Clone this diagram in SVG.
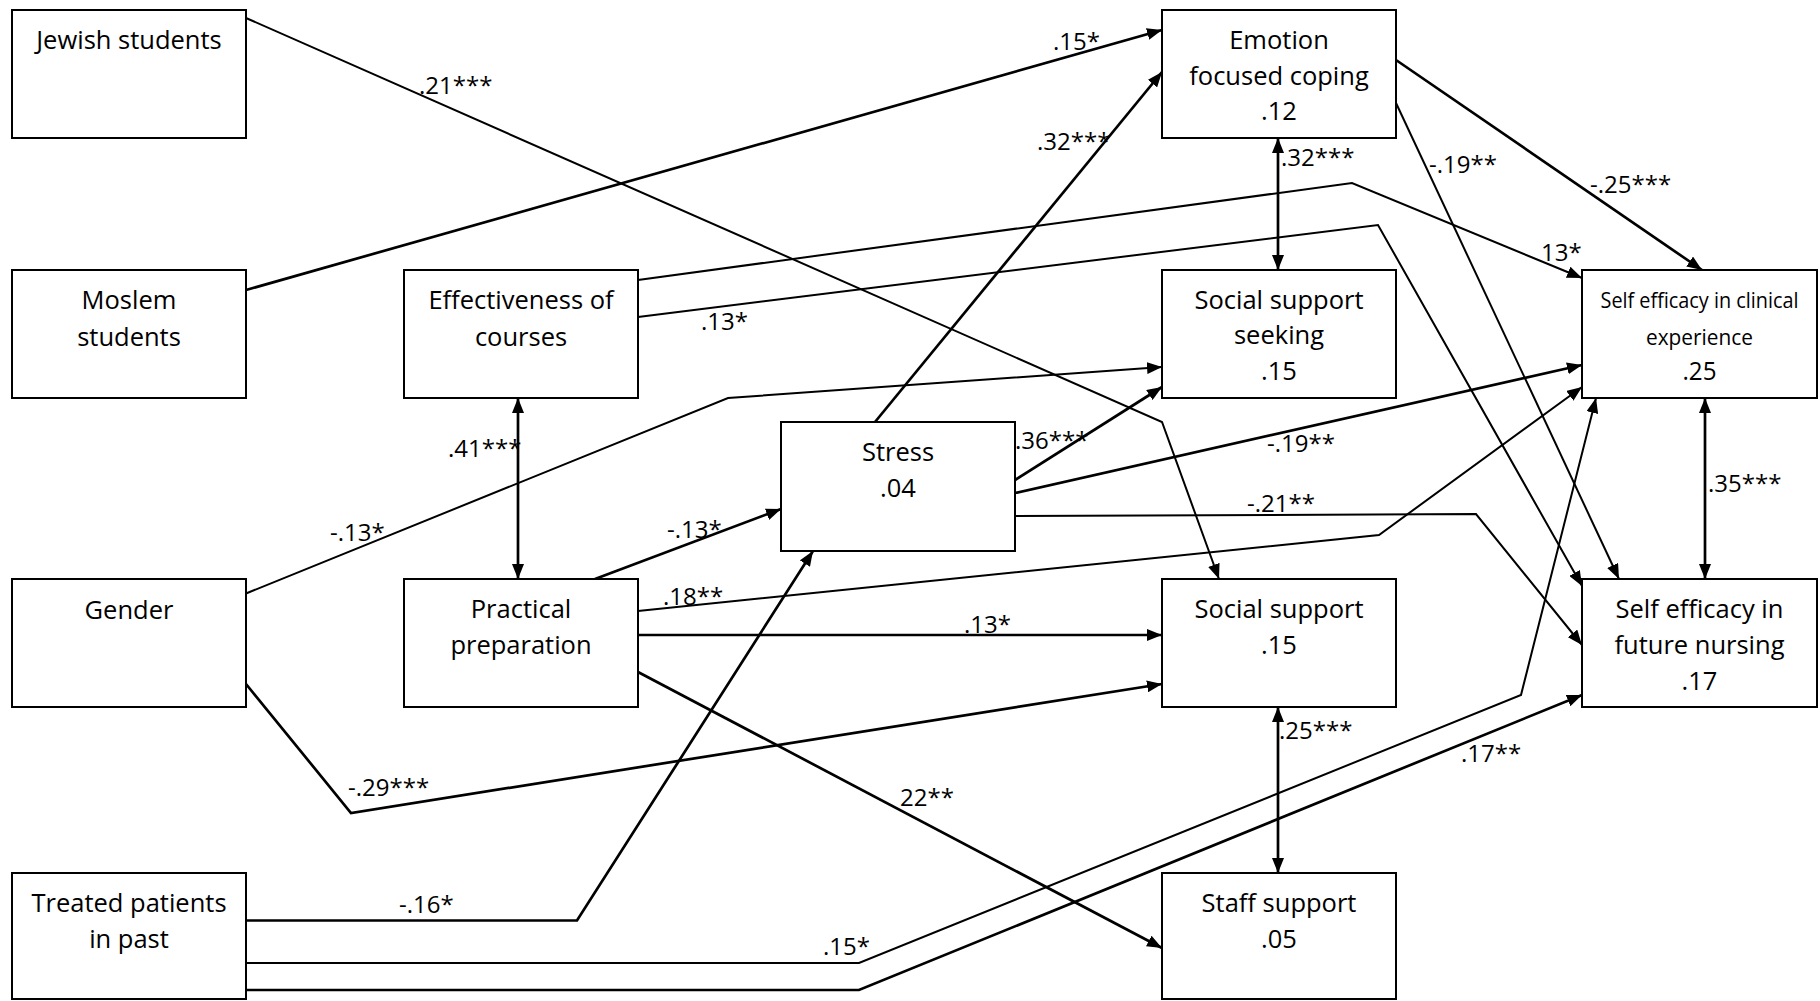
<svg xmlns="http://www.w3.org/2000/svg" width="1820" height="1001" viewBox="0 0 1820 1001">
<defs>
<marker id="ah" markerUnits="userSpaceOnUse" markerWidth="16" markerHeight="12" refX="15" refY="6" orient="auto-start-reverse">
<path d="M0,0 L15,6 L0,12 z" fill="#000"/>
</marker>
<style>
.box{fill:#fff;stroke:#000;stroke-width:2}
.nt{font-family:"Open Sans","Noto Sans","Liberation Sans",sans-serif;font-size:25.5px;fill:#000;text-anchor:middle}
.sm{font-size:22px}
.lb{font-family:"Open Sans","Noto Sans","Liberation Sans",sans-serif;font-size:24px;fill:#000}
.c{fill:none;stroke:#000;stroke-width:2;stroke-linejoin:miter}
.k{stroke-width:2.7}
.a{marker-end:url(#ah)}
.d{marker-start:url(#ah);marker-end:url(#ah)}
</style>
</defs>
<rect width="1820" height="1001" fill="#fff"/>
<g id="connectors">
<path class="c a" d="M246,18 L1162,422 L1219,579"/>
<path class="c k a" d="M246,290 L1162,30"/>
<path class="c k a" d="M875,422 L1162,72"/>
<path class="c k d" d="M1278,138 L1278,270"/>
<path class="c k a" d="M1396,60 L1702,270"/>
<path class="c a" d="M1396,103 L1619,579"/>
<path class="c a" d="M638,280 L1352,183 L1582,278"/>
<path class="c a" d="M638,317 L1378,225 L1582,586"/>
<path class="c a" d="M246,593.5 L728,398 L1162,367"/>
<path class="c k d" d="M518,398 L518,579"/>
<path class="c k a" d="M595,579 L781,509"/>
<path class="c k a" d="M1015,480 L1162,387"/>
<path class="c k a" d="M1015,493 L1582,365"/>
<path class="c a" d="M1015,516 L1476,514 L1582,645"/>
<path class="c a" d="M638,611 L1379,535 L1582,387"/>
<path class="c k a" d="M638,635 L1162,635"/>
<path class="c k a" d="M638,672 L1162,948"/>
<path class="c k a" d="M246,684 L351,813 L1162,684"/>
<path class="c k a" d="M246,920.5 L577,920.5 L813,551"/>
<path class="c a" d="M246,963 L859,963 L1521,695 L1596,398"/>
<path class="c k a" d="M246,990 L859,990 L1582,695"/>
<path class="c k d" d="M1278,707 L1278,873"/>
<path class="c k d" d="M1705,398 L1705,579"/>
<g id="labels">
<text class="lb" x="419" y="94">.21***</text>
<text class="lb" x="1053" y="50">.15*</text>
<text class="lb" x="1037" y="150">.32***</text>
<text class="lb" x="1281" y="166">.32***</text>
<text class="lb" x="1590" y="193">-.25***</text>
<text class="lb" x="1429" y="173">-.19**</text>
<text class="lb" x="1541" y="261">13*</text>
<text class="lb" x="701" y="330">.13*</text>
<text class="lb" x="330" y="541">-.13*</text>
<text class="lb" x="448" y="457">.41***</text>
<text class="lb" x="667" y="538">-.13*</text>
<text class="lb" x="1015" y="449">.36***</text>
<text class="lb" x="1267" y="452">-.19**</text>
<text class="lb" x="1247" y="512">-.21**</text>
<text class="lb" x="663" y="605">.18**</text>
<text class="lb" x="964" y="633">.13*</text>
<text class="lb" x="900" y="806">22**</text>
<text class="lb" x="348" y="796">-.29***</text>
<text class="lb" x="399" y="913">-.16*</text>
<text class="lb" x="823" y="955">.15*</text>
<text class="lb" x="1461" y="762">.17**</text>
<text class="lb" x="1279" y="739">.25***</text>
<text class="lb" x="1708" y="492">.35***</text>
</g>
</g>
<g id="jewish"><rect class="box" x="12" y="10" width="234" height="128"/><text class="nt" x="129" y="49">Jewish students</text></g>
<g id="moslem"><rect class="box" x="12" y="270" width="234" height="128"/><text class="nt" x="129" y="309">Moslem</text><text class="nt" x="129" y="346">students</text></g>
<g id="gender"><rect class="box" x="12" y="579" width="234" height="128"/><text class="nt" x="129" y="619">Gender</text></g>
<g id="treated"><rect class="box" x="12" y="873" width="234" height="126"/><text class="nt" x="129" y="912">Treated patients</text><text class="nt" x="129" y="948">in past</text></g>
<g id="effectiveness"><rect class="box" x="404" y="270" width="234" height="128"/><text class="nt" x="521" y="309">Effectiveness of</text><text class="nt" x="521" y="346">courses</text></g>
<g id="practical"><rect class="box" x="404" y="579" width="234" height="128"/><text class="nt" x="521" y="618">Practical</text><text class="nt" x="521" y="654">preparation</text></g>
<g id="stress"><rect class="box" x="781" y="422" width="234" height="129"/><text class="nt" x="898" y="461">Stress</text><text class="nt" x="898" y="497">.04</text></g>
<g id="emotion"><rect class="box" x="1162" y="10" width="234" height="128"/><text class="nt" x="1279" y="49">Emotion</text><text class="nt" x="1279" y="85">focused coping</text><text class="nt" x="1279" y="120">.12</text></g>
<g id="social-support-seeking"><rect class="box" x="1162" y="270" width="234" height="128"/><text class="nt" x="1279" y="309">Social support</text><text class="nt" x="1279" y="344">seeking</text><text class="nt" x="1279" y="380">.15</text></g>
<g id="social-support"><rect class="box" x="1162" y="579" width="234" height="128"/><text class="nt" x="1279" y="618">Social support</text><text class="nt" x="1279" y="654">.15</text></g>
<g id="staff-support"><rect class="box" x="1162" y="873" width="234" height="126"/><text class="nt" x="1279" y="912">Staff support</text><text class="nt" x="1279" y="948">.05</text></g>
<g id="se-clinical"><rect class="box" x="1582" y="270" width="235" height="128"/><text class="nt sm" x="1699.5" y="308" textLength="198" lengthAdjust="spacingAndGlyphs">Self efficacy in clinical</text><text class="nt sm" x="1699.5" y="345" textLength="107" lengthAdjust="spacingAndGlyphs">experience</text><text class="nt" x="1699.5" y="380" textLength="34" lengthAdjust="spacingAndGlyphs">.25</text></g>
<g id="se-future"><rect class="box" x="1582" y="579" width="235" height="128"/><text class="nt" x="1699.5" y="618">Self efficacy in</text><text class="nt" x="1699.5" y="654">future nursing</text><text class="nt" x="1699.5" y="690">.17</text></g>
</svg>
